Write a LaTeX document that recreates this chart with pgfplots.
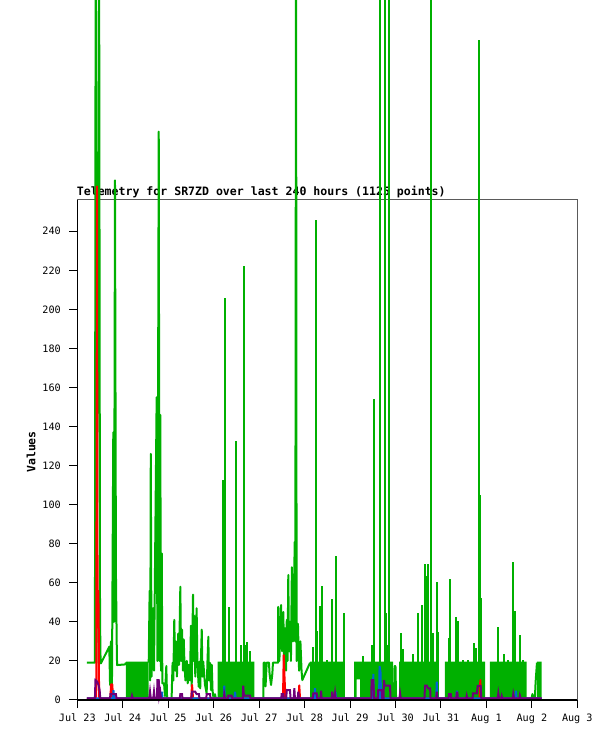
\documentclass[border=0pt]{standalone}
\usepackage{pgfplots}
\pgfplotsset{compat=1.18}
\usepackage{fontspec}
\setmainfont{DejaVu Sans Mono}
\definecolor{grn}{RGB}{0,176,0}
\definecolor{prp}{RGB}{112,0,120}
\definecolor{blu}{RGB}{0,100,210}
\definecolor{brd}{RGB}{90,90,90}
\begin{document}
\begin{tikzpicture}
\begin{axis}[
  scale only axis, width=500bp, height=500bp,
  xmin=0, xmax=264, ymin=0, ymax=256,
  clip=false,
  axis line style={draw=none},
  xtick={0,24,...,264},
  xticklabels={Jul 23,Jul 24,Jul 25,Jul 26,Jul 27,Jul 28,Jul 29,Jul 30,Jul 31,Aug 1,Aug 2,Aug 3},
  ytick={0,20,...,240},
  xtick pos=bottom, ytick pos=left,
  tick align=outside,
  major tick length=8bp,
  tick style={black, line width=1bp},
  ticklabel style={font=\fontsize{10.2}{12}\selectfont, text=black},
  xticklabel style={yshift=-2.5bp, text height=7.8bp, text depth=2bp},
  yticklabel style={xshift=-5bp},
  /pgf/number format/assume math mode=true,
]
\node[anchor=base west, inner sep=0, font=\bfseries\fontsize{11.6}{13}\selectfont] at ([xshift=-0.6bp, yshift=4.3bp]rel axis cs:0,1) {Telemetry for SR7ZD over last 240 hours (1125 points)};
\node[rotate=90, inner sep=0, font=\bfseries\fontsize{11.5}{13}\selectfont] at ([xshift=-46.3bp]rel axis cs:0,0.496) {Values};
\coordinate (bl) at (rel axis cs:0,0);
\coordinate (tr) at (rel axis cs:1,1);
\draw[brd, line width=1bp] (rel axis cs:0,0) rectangle (rel axis cs:1,1);

% green blocks
\addplot[fill=grn, draw=none] coordinates {(25.7,0)(25.7,19.6)(37.7,19.6)(37.7,0)} \closedcycle;
\addplot[fill=grn, draw=none] coordinates {(74.1,0)(74.1,19.6)(93.5,19.6)(93.5,0)} \closedcycle;
\addplot[fill=grn, draw=none] coordinates {(122.9,0)(122.9,19.6)(141.3,19.6)(141.3,0)} \closedcycle;
\addplot[fill=grn, draw=none] coordinates {(146.1,0)(146.1,19.6)(166.7,19.6)(166.7,0)(149.3,0)(149.3,10.5)(147.5,10.5)(147.5,0)} \closedcycle;
\addplot[fill=grn, draw=none] coordinates {(169.9,0)(169.9,19.6)(190.6,19.6)(190.6,0)} \closedcycle;
\addplot[fill=grn, draw=none] coordinates {(194.1,0)(194.1,19.6)(215.3,19.6)(215.3,0)} \closedcycle;
\addplot[fill=grn, draw=none] coordinates {(217.9,0)(217.9,19.6)(237.3,19.6)(237.3,0)} \closedcycle;
\addplot[fill=grn, draw=none] coordinates {(242.7,0)(242.7,19.6)(245.2,19.6)(245.2,0)} \closedcycle;

% green line
\addplot[grn, line width=2bp, line join=round, unbounded coords=jump] coordinates {
(5.1,19.1)(9.3,19.1)(9.7,400)(10.1,19)(11.5,400)(12.0,42)(12.3,18.8)(12.5,18.8)(16.9,27.3)(17.3,7.7)(17.8,30)(18.3,8)(19.0,137)(19.4,40)(19.9,266)(20.4,65)(20.8,30)(21.0,17.9)(25.2,18.2)(25.7,19.1)
(25.8,nan)
(37.7,19.1)(38.2,56)(38.5,10)(38.8,126)(39.2,12)(40.0,47)(40.5,15)(41.9,155)(42.3,20)(43.0,291)(43.4,20)(43.8,146)(44.2,15)(44.6,75)(44.9,8.5)(45.8,8.5)(46.3,2)(47.0,17.4)(47.4,1)
(47.5,nan)
(49.8,1)(50.3,19)(50.7,10)(51.2,41)(51.7,15)(52.1,30)(52.6,12)(53.3,34)(53.7,18)(54.4,58)(54.8,20)(55.3,36)(55.8,15)(56.2,31)(56.6,18)(57.1,10)(57.8,20)(58.3,8.5)(58.8,18)(59.5,10)(60.0,38)(60.4,7)(61.1,54)(61.5,20)(61.8,43)(62.3,12)(63.0,47)(63.4,20)(64.1,6.8)(64.5,19.6)(64.9,6)(65.7,36)(66.1,12)(66.5,19.6)(67.4,8)(68.3,3.4)(68.7,19)(69.2,32.4)(69.5,10)(70.1,19)(70.6,5)(71.0,18)(71.4,5)(71.8,1.7)
(72.0,nan)
(72.2,1)(72.7,3)(73.1,1)
(73.5,nan)
(98.2,1)(98.4,19.1)(99.1,19.1)(99.4,7)(100.0,19.1)(101.2,19.1)(101.5,13.6)(102.3,7.7)(103.0,13.6)(103.3,19.1)(106.0,19.1)(106.1,47.7)(106.7,20)(107.6,48.6)(108.1,25)(108.8,45)(109.1,20)(109.7,36.7)(110.2,15)(110.6,41)(111.0,20)(111.4,64)(111.8,25)(112.3,40)(112.8,20)(113.3,68)(113.9,30)(114.4,55)(114.8,81)(115.1,30)(115.5,400)(115.8,20)(116.5,39)(117.1,15)(117.8,30)(118.4,15)(118.8,10.2)(122.9,19.1)
(123.0,nan)
(167.2,1)(167.5,17.4)(168.0,17.4)(168.3,1)
(168.5,nan)
(239.9,1)(240.3,3)(241.1,1)(241.6,1)(242.0,9.4)(242.7,19.1)
};

% green spikes inside blocks
\addplot[ycomb, grn, line width=2bp] coordinates {
(77.1,112.6)(77.8,205.6)(80.1,47.7)(83.6,132.5)(86.5,28)(87.9,222)(88.8,28)(89.4,29.8)(91.2,25)
(124.6,27.3)(125.9,246)(126.4,35.3)(128.1,48.1)(129.0,58.3)(131.7,20.5)(134.6,51.5)(136.4,73.7)(141.0,44.3)
(150.7,22.5)(155.4,28.1)(156.7,154)(159.8,400)(162.5,400)(162.9,44.3)(164.0,28)(164.7,400)
(170.8,34.1)(172.1,25.9)(177.4,23.5)(179.7,44.3)(182.2,48.6)(183.6,69.6)(184.5,63.4)(185.3,69.6)(186.8,400)(188.0,34.1)(189.8,60.5)(190.3,35)
(196.3,31.5)(196.8,62.2)(199.8,42.6)(200.9,40.6)(203.8,20.5)(206.4,20.5)(209.6,29)(210.4,26.8)(212.1,338)(212.8,105)(213.1,52)
(222.3,37.2)(225.5,23.5)(227.3,20.5)(230.2,70.4)(231.1,45.7)(233.7,33.2)(235.5,20.5)
};

% red
\addplot[red, line width=2bp, line join=round] coordinates {
(5.1,0.85)(10.0,0.85)(10.4,263)(10.7,50)(10.9,42)(11.1,56)(11.3,42)(11.5,0.85)(17.5,0.85)(17.8,8)(18.5,8)(18.8,0.85)(60.1,0.85)(60.6,7.7)(61.1,0.85)(108.6,0.85)(109.0,23)(109.4,12)(109.9,0.85)(116.8,0.85)(117.2,7.5)(117.6,0.85)(212.4,0.85)(212.8,10.2)(213.2,0.85)(245.2,0.85)
};

% blue
\addplot[blu, line width=2bp] coordinates {
(5.1,0.85)(18.8,0.85)(19.1,5)(19.4,0.85)(44.4,0.85)(44.7,4.3)(45.0,0.85)(77.3,0.85)(77.6,7.3)(77.9,0.85)(83.0,0.85)(83.3,4.3)(83.6,0.85)(125.2,0.85)(125.5,6)(125.8,0.85)(136.0,0.85)(136.3,4.3)(136.6,0.85)(156.0,0.85)(156.3,13.3)(156.6,0.85)(159.3,0.85)(159.6,17.4)(160.1,14.2)(160.4,0.85)(189.5,0.85)(189.8,9.4)(190.1,0.85)(200.1,0.85)(200.4,4.8)(200.7,0.85)(231.3,0.85)(231.6,4.8)(231.9,0.85)(245.2,0.85)
};

% purple
\addplot[prp, line width=2bp] coordinates {
(5.1,0.85)(9.3,0.85)(9.6,10.2)(10.4,9.5)(11.2,7.7)(11.8,5)(12.1,0.85)
(17.3,0.85)(17.5,3)(20.4,3)(20.7,0.85)
(28.6,0.85)(28.9,2.2)(29.3,0.85)
(38.0,0.85)(38.4,4.3)(38.8,0.85)
(40.1,0.85)(40.5,4.3)(40.9,0.85)
(42.1,0.85)(42.3,10.2)(43.0,10.2)(43.3,2)(43.8,4.3)(44.2,0.85)
(54.1,0.85)(54.4,3)(55.3,3)(55.5,0.85)
(60.3,0.85)(60.6,4.3)(62.2,4.3)(63.0,3)(64.2,3)(64.5,0.85)
(68.1,0.85)(68.3,3)(70.1,3)(70.3,0.85)
(77.4,0.85)(77.6,3)(78.0,0.85)
(79.5,0.85)(79.7,2.2)(81.5,2.2)(81.8,0.85)
(87.4,0.85)(87.6,7.3)(88.0,2.2)(88.5,2.2)(91.2,2.2)(91.4,0.85)
(107.7,0.85)(107.9,3)(108.8,3)(109.0,0.85)
(110.3,0.85)(110.6,5)(112.3,5)(112.6,0.85)
(114.3,0.85)(114.6,6)(114.9,0.85)
(116.4,0.85)(116.7,4.3)(117.1,0.85)
(124.3,0.85)(124.6,3.4)(126.4,3.4)(126.7,0.85)
(128.4,0.85)(128.7,4.8)(129.0,0.85)
(134.4,0.85)(134.6,4.3)(135.0,0.85)
(135.8,0.85)(136.1,3.4)(136.4,0.85)
(155.2,0.85)(155.4,10.2)(156.3,10.2)(156.7,0.85)
(158.7,0.85)(158.9,5)(160.7,5)(161.0,0.85)
(161.7,0.85)(161.9,10.2)(162.3,7.3)(165.1,7.3)(165.4,0.85)
(170.1,0.85)(170.4,3.4)(170.8,0.85)
(183.3,0.85)(183.6,7.3)(184.6,7.3)(185.2,6)(186.3,6)(186.5,0.85)
(189.5,0.85)(189.8,4.3)(190.1,0.85)
(196.0,0.85)(196.3,3)(197.2,3)(197.4,0.85)
(200.1,0.85)(200.4,3.8)(200.7,3.8)(200.9,0.85)
(205.3,0.85)(205.6,2.2)(205.9,0.85)
(208.7,0.85)(208.9,3.4)(211.0,3.4)(211.4,7.2)(213.0,7.2)(213.3,0.85)
(222.0,0.85)(222.3,3.4)(222.7,0.85)
(223.8,0.85)(224.1,2)(224.4,0.85)
(229.9,0.85)(230.2,3)(230.6,0.85)
(233.5,0.85)(233.7,2.2)(234.1,0.85)
(245.2,0.85)
};

\draw[black, line width=2bp] (rel axis cs:0,0) -- (rel axis cs:1,0);
\draw[black, line width=1bp] (rel axis cs:0,0) -- (rel axis cs:0,1);
\end{axis}
\pgfresetboundingbox
\path[use as bounding box] ([xshift=-77.3bp,yshift=-41bp]bl) rectangle ([xshift=37.7bp,yshift=200bp]tr);
\end{tikzpicture}
\end{document}
